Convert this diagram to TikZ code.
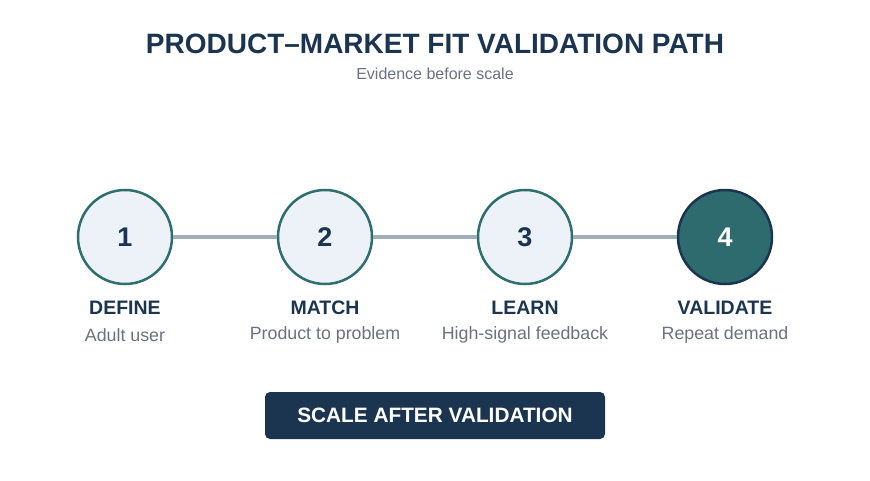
\documentclass[tikz,border=0pt]{standalone}
\usepackage{fontspec}
\setmainfont{Liberation Sans}
\definecolor{navy}{HTML}{1B3550}
\definecolor{teal}{HTML}{2F6E6E}
\definecolor{tealfill}{HTML}{2D6B6E}
\definecolor{pale}{HTML}{EDF2F8}
\definecolor{linegray}{HTML}{A0AEB8}
\definecolor{subgray}{HTML}{6B7280}
\tikzset{
  stepcircle/.style={circle, draw=teal, line width=2.5pt, fill=pale, minimum size=94pt, inner sep=0pt,
    font=\fontsize{27}{30}\selectfont\bfseries, text=navy},
  finalcircle/.style={stepcircle, draw=navy, fill=tealfill, text=white},
  steplabel/.style={font=\fontsize{19.5}{22}\selectfont\bfseries, text=navy},
  stepsub/.style={font=\fontsize{17.8}{20}\selectfont, text=subgray},
  conn/.style={draw=linegray, line width=4pt}
}
\begin{document}
\begin{tikzpicture}[x=1pt,y=-1pt]
\useasboundingbox (0,0) rectangle (870,480);
\fill[white] (0,0) rectangle (870,480);
\node[font=\fontsize{28}{32}\selectfont\bfseries, text=navy] (title) at (435,44) {PRODUCT–MARKET FIT VALIDATION PATH};
\node[font=\fontsize{16}{19}\selectfont, text=subgray] (subtitle) at (435,74) {Evidence before scale};
\node[stepcircle] (c1) at (125,237) {1};
\node[stepcircle] (c2) at (325,237) {2};
\node[stepcircle] (c3) at (525,237) {3};
\node[finalcircle] (c4) at (725,237) {4};
\draw[conn] (c1) -- (c2);
\draw[conn] (c2) -- (c3);
\draw[conn] (c3) -- (c4);
\node[steplabel] (l1) at (125,307.5) {DEFINE};
\node[steplabel] (l2) at (325,307.5) {MATCH};
\node[steplabel] (l3) at (525,307.5) {LEARN};
\node[steplabel] (l4) at (725,307.5) {VALIDATE};
\node[stepsub] (s1) at (125,335) {Adult user};
\node[stepsub] (s2) at (325,335) {Product to problem};
\node[stepsub] (s3) at (525,335) {High-signal feedback};
\node[stepsub] (s4) at (725,335) {Repeat demand};
\node[fill=navy, rounded corners=5pt, minimum width=340pt, minimum height=47pt, text=white,
  font=\fontsize{20.8}{24}\selectfont\bfseries] (btn) at (435,415.5) {SCALE AFTER VALIDATION};
\end{tikzpicture}
\end{document}
